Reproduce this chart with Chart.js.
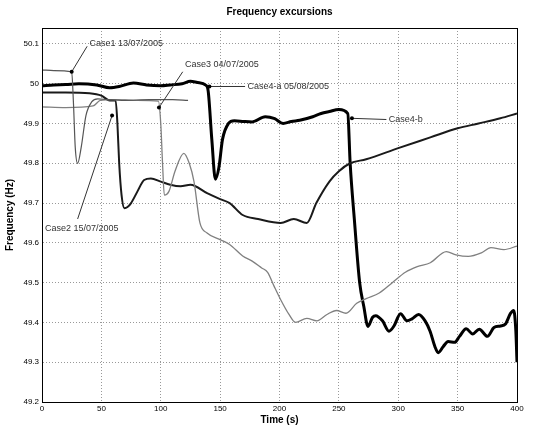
<!DOCTYPE html>
<html>
<head>
<meta charset="utf-8">
<script src="https://cdn.jsdelivr.net/npm/chart.js@4.4.1/dist/chart.umd.min.js"></script>
<style>
  body { margin: 0; background: #fff; }
  #wrap { width: 534px; height: 428px; }
</style>
</head>
<body>
<div id="wrap"><canvas id="myChart" width="534" height="428"></canvas></div>
<script>
// frequency records, time in s, frequency in Hz
var case4T = [0, 10, 20, 31, 46, 57, 65, 77, 88, 100, 108, 118, 125, 131, 138, 140, 143, 146, 149, 152, 157, 162, 170, 177, 188, 196, 203, 210, 217, 228, 235, 242, 250, 257.5, 259.5, 263, 267.5, 271, 274.5, 278.4, 281, 286.7, 292.2, 296.4, 301.9, 307.4, 311.6, 317.1, 322.6, 326.8, 330.9, 333.7, 337.8, 342, 347.5, 351.6, 357.2, 362.7, 368.2, 375.1, 380.6, 386.2, 390.3, 394.4, 397.2, 399, 400];
var case4F = [49.995, 49.997, 49.998, 50.0, 49.997, 49.99, 49.993, 50.002, 49.997, 49.995, 49.997, 50.0, 50.006, 50.003, 49.996, 49.98, 49.86, 49.76, 49.79, 49.86, 49.9, 49.907, 49.905, 49.904, 49.917, 49.912, 49.9, 49.905, 49.908, 49.917, 49.925, 49.93, 49.935, 49.925, 49.8, 49.66, 49.5, 49.44, 49.39, 49.413, 49.417, 49.404, 49.378, 49.391, 49.422, 49.404, 49.409, 49.42, 49.404, 49.378, 49.339, 49.324, 49.339, 49.352, 49.35, 49.365, 49.384, 49.371, 49.383, 49.365, 49.387, 49.391, 49.396, 49.422, 49.43, 49.38, 49.3];

var case2T = [0, 20, 40, 50, 57, 62, 63.5, 65, 67, 69.4, 72, 75, 80.5, 86, 91.7, 100, 108, 116.7, 125, 139, 150, 158, 169, 182, 201, 212, 223, 231, 242, 250, 259.5, 273, 300, 327, 350, 367.6, 386, 400];
var case2F = [49.978, 49.978, 49.976, 49.97, 49.958, 49.958, 49.9, 49.8, 49.72, 49.687, 49.69, 49.7, 49.73, 49.758, 49.762, 49.754, 49.746, 49.742, 49.746, 49.725, 49.71, 49.7, 49.67, 49.66, 49.65, 49.66, 49.65, 49.7, 49.754, 49.78, 49.8, 49.81, 49.838, 49.865, 49.888, 49.9, 49.913, 49.925];

var case3T = [0, 20, 43, 49, 60, 80, 98, 100, 101.5, 103, 107, 112, 119.4, 124, 128, 133, 139, 150, 158, 169, 177, 185, 190, 195.6, 201, 208, 213.5, 223, 231.5, 240, 248, 256, 265, 273, 284, 295, 306, 316, 327, 340.5, 348.6, 359, 370, 378, 389, 400];
var case3F = [49.942, 49.94, 49.944, 49.958, 49.96, 49.958, 49.956, 49.9, 49.8, 49.72, 49.73, 49.78, 49.825, 49.8, 49.754, 49.65, 49.625, 49.608, 49.596, 49.567, 49.554, 49.537, 49.526, 49.49, 49.457, 49.42, 49.4, 49.41, 49.404, 49.42, 49.43, 49.423, 49.448, 49.46, 49.474, 49.5, 49.526, 49.54, 49.55, 49.578, 49.57, 49.566, 49.575, 49.588, 49.583, 49.592];

var case1T = [0, 10, 25, 26.5, 28, 30, 33, 37, 42, 47, 55, 70, 90, 110, 123];
var case1F = [50.035, 50.033, 50.03, 49.95, 49.84, 49.8, 49.84, 49.92, 49.955, 49.962, 49.96, 49.958, 49.96, 49.96, 49.958];

var xTicksStep = 50;
var yTicksStep = 0.1;

// labels with their pointer lines
var annoText = ['Case1 13/07/2005', 'Case3 04/07/2005', 'Case4-a 05/08/2005', 'Case4-b', 'Case2 15/07/2005'];
var annoTextT = [40, 120.5, 173, 292, 2.5];
var annoTextF = [50.1, 50.047, 49.993, 49.91, 49.635];
var annoFromT = [38, 118.5, 171, 290, 30];
var annoFromF = [50.094, 50.03, 49.993, 49.91, 49.66];
var annoToT = [25, 98.5, 141, 261, 59];
var annoToF = [50.03, 49.94, 49.993, 49.913, 49.92];

function pts(t, f) {
  return t.map(function (v, i) { return { x: v, y: f[i] }; });
}

var boxPlugin = {
  id: 'box',
  afterDatasetsDraw: function (chart) {
    var ctx = chart.ctx, a = chart.chartArea;
    var sx = chart.scales.x, sy = chart.scales.y;
    ctx.save();
    ctx.strokeStyle = '#000';
    ctx.lineWidth = 1;
    ctx.strokeRect(a.left + 0.5, a.top + 0.5, a.right - a.left, a.bottom - a.top);
    // title over the plot box
    ctx.fillStyle = '#000';
    ctx.font = 'bold 10px "Liberation Sans", Arial, sans-serif';
    ctx.textAlign = 'center';
    ctx.textBaseline = 'middle';
    ctx.fillText('Frequency excursions', (a.left + a.right) / 2, 12);
    // annotations
    ctx.font = '9px "Liberation Sans", Arial, sans-serif';
    ctx.textAlign = 'left';
    for (var i = 0; i < annoText.length; i++) {
      var x0 = sx.getPixelForValue(annoFromT[i]), y0 = sy.getPixelForValue(annoFromF[i]);
      var x1 = sx.getPixelForValue(annoToT[i]), y1 = sy.getPixelForValue(annoToF[i]);
      ctx.strokeStyle = '#333';
      ctx.beginPath();
      ctx.moveTo(x0, y0);
      ctx.lineTo(x1, y1);
      ctx.stroke();
      ctx.fillStyle = '#000';
      ctx.beginPath();
      ctx.arc(x1, y1, 2, 0, Math.PI * 2);
      ctx.fill();
      ctx.fillStyle = '#333';
      ctx.fillText(annoText[i], sx.getPixelForValue(annoTextT[i]), sy.getPixelForValue(annoTextF[i]));
    }
    ctx.restore();
  }
};

var ctx = document.getElementById('myChart').getContext('2d');
var chart = new Chart(ctx, {
  type: 'line',
  data: {
    datasets: [
      { label: 'Case1 13/07/2005', data: pts(case1T, case1F), borderColor: '#555', borderWidth: 1.2 },
      { label: 'Case3 04/07/2005', data: pts(case3T, case3F), borderColor: '#808080', borderWidth: 1.3 },
      { label: 'Case2 15/07/2005', data: pts(case2T, case2F), borderColor: '#1a1a1a', borderWidth: 2 },
      { label: 'Case4 05/08/2005', data: pts(case4T, case4F), borderColor: '#000', borderWidth: 3 }
    ]
  },
  options: {
    responsive: false,
    animation: false,
    elements: {
      point: { radius: 0 },
      line: { fill: false, cubicInterpolationMode: 'monotone' }
    },
    layout: { padding: { left: 4, right: 17, top: 28, bottom: 2 } },
    plugins: {
      legend: { display: false },
      tooltip: { enabled: false },
      title: { display: false }
    },
    scales: {
      x: {
        type: 'linear',
        min: 0,
        max: 400,
        afterFit: function (s) { s.height = 24; },
        ticks: {
          stepSize: xTicksStep,
          padding: 2,
          color: '#000',
          maxRotation: 0,
          font: { family: '"Liberation Sans", Arial, sans-serif', size: 8 }
        },
        grid: { color: '#999', drawTicks: false },
        border: { display: true, color: '#000', dash: [1, 2] },
        title: {
          display: true,
          text: 'Time (s)',
          color: '#000',
          padding: 0,
          font: { family: '"Liberation Sans", Arial, sans-serif', size: 10, weight: 'bold' }
        }
      },
      y: {
        min: 49.2,
        max: 50.14,
        afterFit: function (s) { s.width = 38; },
        ticks: {
          stepSize: yTicksStep,
          includeBounds: false,
          padding: 3,
          color: '#000',
          font: { family: '"Liberation Sans", Arial, sans-serif', size: 8 },
          callback: function (v) { return String(Math.round(v * 10) / 10); }
        },
        grid: { color: '#999', drawTicks: false },
        border: { display: true, color: '#000', dash: [1, 2] },
        title: {
          display: true,
          text: 'Frequency (Hz)',
          color: '#000',
          padding: 0,
          font: { family: '"Liberation Sans", Arial, sans-serif', size: 10, weight: 'bold' }
        }
      }
    }
  },
  plugins: [boxPlugin]
});
</script>
</body>
</html>
